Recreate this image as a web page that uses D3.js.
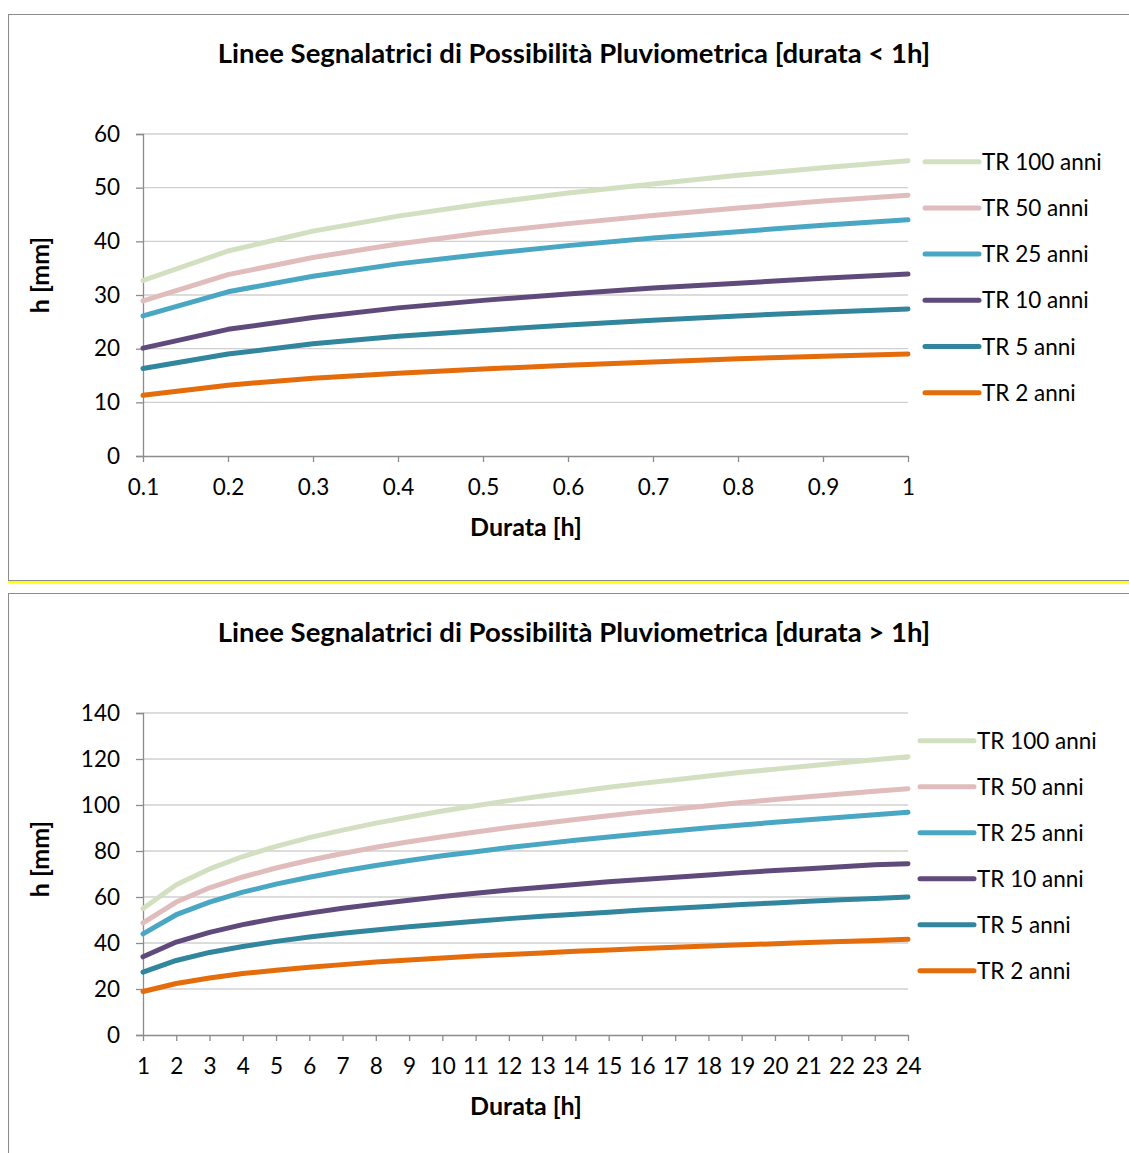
<!DOCTYPE html>
<html>
<head>
<meta charset="utf-8">
<script src="https://cdnjs.cloudflare.com/ajax/libs/d3/7.8.5/d3.min.js"></script>
<style>
  body { margin: 0; background: #fff; }
  text { font-family: Lato, "Open Sans", sans-serif; fill: #000; }
</style>
</head>
<body>
<div id="chart"></div>
<script>
// series names and colours (legend order, top to bottom)
const seriesNames = ['TR 100 anni', 'TR 50 anni', 'TR 25 anni', 'TR 10 anni', 'TR 5 anni', 'TR 2 anni'];
const seriesColors = ['#d3dfc1', '#e0bcbc', '#4aa7c3', '#604a7b', '#31859c', '#e46c0a'];

// chart 1: durata < 1h
const durShort = [0.1, 0.2, 0.3, 0.4, 0.5, 0.6, 0.7, 0.8, 0.9, 1];
const shortTR100 = [32.7, 38.2, 41.9, 44.7, 47.0, 49.0, 50.7, 52.3, 53.7, 55.0];
const shortTR50  = [28.9, 33.8, 37.0, 39.5, 41.6, 43.3, 44.8, 46.2, 47.5, 48.6];
const shortTR25  = [26.1, 30.6, 33.5, 35.8, 37.6, 39.2, 40.6, 41.8, 43.0, 44.0];
const shortTR10  = [20.1, 23.6, 25.8, 27.6, 29.0, 30.2, 31.3, 32.2, 33.1, 33.9];
const shortTR5   = [16.3, 19.0, 20.9, 22.3, 23.4, 24.4, 25.3, 26.1, 26.8, 27.4];
const shortTR2   = [11.3, 13.2, 14.5, 15.4, 16.2, 16.9, 17.5, 18.1, 18.6, 19.0];
const shortYTicks = [0, 10, 20, 30, 40, 50, 60];

// chart 2: durata > 1h
const durLong = [1, 2, 3, 4, 5, 6, 7, 8, 9, 10, 11, 12, 13, 14, 15, 16, 17, 18, 19, 20, 21, 22, 23, 24];
const longTR100 = [55.0, 65.3, 72.2, 77.6, 82.0, 85.8, 89.1, 92.1, 94.8, 97.4, 99.7, 101.9, 103.9, 105.8, 107.7, 109.4, 111.0, 112.6, 114.2, 115.6, 117.0, 118.4, 119.7, 121.0];
const longTR50  = [48.7, 57.8, 64.0, 68.7, 72.6, 76.0, 78.9, 81.6, 84.0, 86.2, 88.3, 90.2, 92.0, 93.7, 95.3, 96.9, 98.3, 99.7, 101.1, 102.4, 103.6, 104.8, 106.0, 107.1];
const longTR25  = [44.0, 52.3, 57.8, 62.1, 65.6, 68.6, 71.3, 73.7, 75.9, 77.9, 79.7, 81.5, 83.1, 84.7, 86.1, 87.5, 88.8, 90.1, 91.3, 92.5, 93.6, 94.7, 95.8, 96.8];
const longTR10  = [34.0, 40.4, 44.6, 48.0, 50.7, 53.0, 55.1, 56.9, 58.6, 60.2, 61.6, 63.0, 64.2, 65.4, 66.6, 67.6, 68.6, 69.6, 70.6, 71.5, 72.3, 73.2, 74.0, 74.5];
const longTR5   = [27.3, 32.4, 35.9, 38.5, 40.7, 42.6, 44.2, 45.7, 47.1, 48.3, 49.5, 50.6, 51.6, 52.5, 53.4, 54.3, 55.1, 55.9, 56.7, 57.4, 58.1, 58.8, 59.4, 60.0];
const longTR2   = [18.9, 22.4, 24.8, 26.7, 28.2, 29.5, 30.6, 31.7, 32.6, 33.5, 34.3, 35.0, 35.7, 36.4, 37.0, 37.6, 38.2, 38.7, 39.2, 39.7, 40.2, 40.7, 41.1, 41.6];
const longYTicks = [0, 20, 40, 60, 80, 100, 120, 140];

const svg = d3.select('#chart').append('svg')
    .attr('width', 1129)
    .attr('height', 1153);

function drawChart(o) {
    const g = svg.append('g').attr('transform', 'translate(0,' + o.top + ')');

    // outer frame
    g.append('rect')
        .attr('x', 8.5).attr('y', 0.5)
        .attr('width', 1140).attr('height', o.frameH)
        .attr('fill', 'none').attr('stroke', '#8c8c8c').attr('stroke-width', 1);

    const x = d3.scaleLinear().domain(d3.extent(o.xs)).range([143, 908]);
    const y = d3.scaleLinear().domain([0, d3.max(o.yTicks)]).range([o.plotBottom, o.plotTop]);

    // gridlines
    g.selectAll('.grid')
        .data(o.yTicks.filter(d => d > 0))
        .enter().append('line')
        .attr('x1', 143).attr('x2', 908)
        .attr('y1', d => y(d)).attr('y2', d => y(d))
        .attr('stroke', '#d0d0d0').attr('stroke-width', 1.3);

    // y axis
    const ya = g.append('g')
        .attr('transform', 'translate(143,0)')
        .call(d3.axisLeft(y).tickValues(o.yTicks).tickSize(7).tickPadding(16).tickFormat(d3.format('d')));
    ya.select('.domain').attr('stroke', '#8c8c8c').attr('stroke-width', 1.3);
    ya.selectAll('.tick line').attr('stroke', '#8c8c8c').attr('stroke-width', 1.3);
    ya.selectAll('.tick text').style('font-size', '22.5px').attr('fill', '#000');

    // x axis
    const xa = g.append('g')
        .attr('transform', 'translate(0,' + o.plotBottom + ')')
        .call(d3.axisBottom(x).tickValues(o.xs).tickSize(6).tickPadding(17).tickSizeOuter(0).tickFormat(o.xFormat));
    xa.select('.domain').attr('stroke', '#8c8c8c').attr('stroke-width', 1.3);
    xa.selectAll('.tick line').attr('stroke', '#8c8c8c').attr('stroke-width', 1.3);
    xa.selectAll('.tick text').style('font-size', '22.5px').attr('fill', '#000');

    // lines, drawn bottom series first
    const line = d3.line().x((d, i) => x(o.xs[i])).y(d => y(d));
    const order = d3.range(o.series.length).reverse();
    g.selectAll('.series')
        .data(order)
        .enter().append('path')
        .attr('d', i => line(o.series[i]))
        .attr('fill', 'none')
        .attr('stroke', i => seriesColors[i])
        .attr('stroke-width', 5)
        .attr('stroke-linejoin', 'round')
        .attr('stroke-linecap', 'round');

    // legend
    const lg = g.selectAll('.legend')
        .data(seriesNames)
        .enter().append('g')
        .attr('transform', (d, i) => 'translate(' + o.legX + ',' + (o.legY + i * o.legStep) + ')');
    lg.append('line')
        .attr('x1', 0).attr('x2', 54).attr('y1', 0).attr('y2', 0)
        .attr('stroke', (d, i) => seriesColors[i])
        .attr('stroke-width', 5)
        .attr('stroke-linecap', 'round');
    lg.append('text')
        .attr('x', 57).attr('y', 8)
        .style('font-size', '22.5px')
        .text(d => d);

    // titles
    g.append('text')
        .attr('x', 574).attr('y', o.titleY)
        .attr('text-anchor', 'middle')
        .style('font-size', '27.5px').style('font-weight', 'bold')
        .text(o.title);
    g.append('text')
        .attr('x', 526).attr('y', o.xLabelY)
        .attr('text-anchor', 'middle')
        .style('font-size', '25px').style('font-weight', 'bold')
        .text('Durata [h]');
    g.append('text')
        .attr('transform', 'translate(49,' + o.yLabelY + ') rotate(-90)')
        .attr('text-anchor', 'middle')
        .style('font-size', '25px').style('font-weight', 'bold')
        .text('h [mm]');
}

drawChart({
    top: 14, frameH: 566,
    xs: durShort,
    series: [shortTR100, shortTR50, shortTR25, shortTR10, shortTR5, shortTR2],
    yTicks: shortYTicks,
    plotTop: 120, plotBottom: 442,
    xFormat: d3.format('.1~f'),
    legX: 925, legY: 147.7, legStep: 46.2,
    titleY: 49, xLabelY: 522, yLabelY: 261,
    title: 'Linee Segnalatrici di Possibilità Pluviometrica [durata < 1h]'
});

// separator between the two panels
svg.append('line')
    .attr('x1', 8).attr('x2', 1129).attr('y1', 582).attr('y2', 582)
    .attr('stroke', '#ffff00').attr('stroke-width', 2);

drawChart({
    top: 593, frameH: 600,
    xs: durLong,
    series: [longTR100, longTR50, longTR25, longTR10, longTR5, longTR2],
    yTicks: longYTicks,
    plotTop: 120, plotBottom: 442,
    xFormat: d3.format('d'),
    legX: 920, legY: 147.7, legStep: 46,
    titleY: 49, xLabelY: 522, yLabelY: 266,
    title: 'Linee Segnalatrici di Possibilità Pluviometrica [durata > 1h]'
});
</script>
</body>
</html>
